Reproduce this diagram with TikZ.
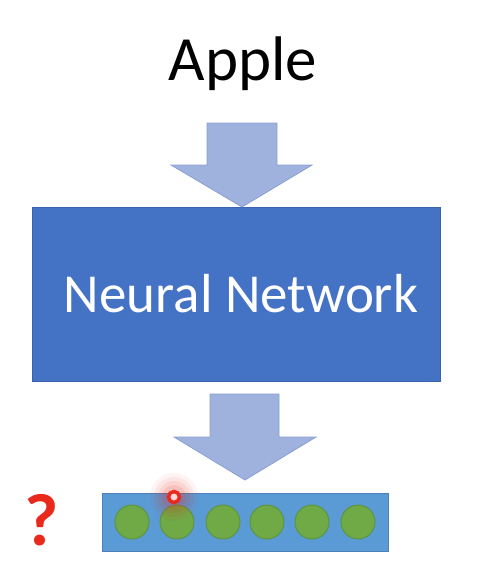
\documentclass[tikz,border=0pt]{standalone}
\usepackage{fontspec}
\setmainfont{Carlito}
\definecolor{netblue}{HTML}{4472C4}
\definecolor{netedge}{HTML}{3A62AE}
\definecolor{arrowfill}{HTML}{9FB1DD}
\definecolor{arrowedge}{HTML}{8A9FD6}
\definecolor{vecblue}{HTML}{5B9BD5}
\definecolor{vecedge}{HTML}{4F7FB8}
\definecolor{cellgreen}{HTML}{6FAA46}
\definecolor{celledge}{HTML}{5E9440}
\definecolor{markred}{HTML}{E8291C}
\tikzset{
  title/.style={font=\fontsize{63}{63}\selectfont, text=black},
  netbox/.style={draw=netedge, fill=netblue, text=white, minimum width=408pt,
    minimum height=174pt, font=\fontsize{55}{55}\selectfont},
  vecbar/.style={draw=vecedge, fill=vecblue, minimum width=286pt, minimum height=58pt},
  cell/.style={circle, draw=celledge, line width=1pt, fill=cellgreen, minimum size=34pt, inner sep=0pt},
  blockarrow/.style={draw=arrowedge, fill=arrowfill, line width=0.8pt}
}
\begin{document}
\begin{tikzpicture}[x=1pt, y=-1pt]
    \useasboundingbox (0,0) rectangle (478,584);
    % Entrada
    \node[title] (apple) at (243,64) {Apple};
    % Red
    \node[netbox] (net) at (236,294) {\hspace{10pt}Neural Network};
    % Flechas
    \coordinate (tipA) at (242,207);
    \coordinate (tipB) at (245,480);
    \filldraw[blockarrow] (207,123) -- (277,123) -- (277,165) -- (312,165) -- (tipA)
        -- (171,165) -- (207,165) -- cycle;
    \filldraw[blockarrow] (210,394) -- (279,394) -- (279,437) -- (316,437) -- (tipB)
        -- (174,437) -- (210,437) -- cycle;
    % Vector de salida
    \node[vecbar] (vec) at (245,522) {};
    \foreach \i/\x in {1/132,2/177,3/223,4/267,5/312,6/358}
        \node[cell] (c\i) at (\x,522) {};
    % Marca
    \foreach \r/\o in {24/0.05,20/0.07,16/0.09,12/0.12}
        \fill[markred, opacity=\o] (174,497) circle (\r);
    \draw[markred, line width=3.5pt, fill=red!15] (174,497) circle (5.5);
    \node[text=markred, font=\bfseries\fontsize{74}{74}\selectfont] (ask) at (42,520) {?};
\end{tikzpicture}
\end{document}
